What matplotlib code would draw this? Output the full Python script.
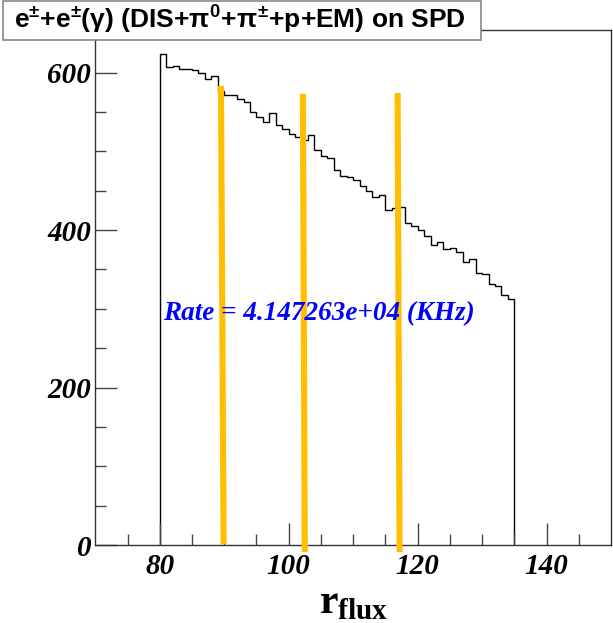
import numpy as np
import matplotlib
matplotlib.use("Agg")
import matplotlib.pyplot as plt
from matplotlib.patches import Rectangle

# histogram contents, 1 unit bins from 80 to 135
bin_edges = np.arange(80, 136, 1)
counts = [623, 607, 608, 604, 604, 603, 600, 592, 595, 577,
          572, 572, 567, 562, 550, 544, 537, 548, 533, 528,
          522, 518, 514, 521, 502, 494, 492, 476, 469, 467,
          464, 456, 449, 442, 444, 426, 428, 429, 409, 405,
          400, 393, 381, 385, 376, 377, 372, 359, 363, 346,
          344, 332, 329, 318, 313]

# orange marker lines (x_top, y_top) -> (x_bottom, y_bottom)
mark_x_top = [89.5, 102.2, 116.9]
mark_y_top = [583, 573, 574]
mark_x_bot = [89.9, 102.5, 117.2]
mark_y_bot = [1, -9, -9]

rate_label = "Rate = 4.147263e+04 (KHz)"
title = r"e$^{\pm}$+e$^{\pm}$($\gamma$) (DIS+$\pi^{0}$+$\pi^{\pm}$+p+EM) on SPD"

plt.rcParams['mathtext.fontset'] = 'custom'
plt.rcParams['mathtext.rm'] = 'Liberation Sans:bold'
plt.rcParams['mathtext.it'] = 'Liberation Sans:bold'
plt.rcParams['mathtext.bf'] = 'Liberation Serif:bold'

W, H = 613, 623
fig = plt.figure(figsize=(W / 100, H / 100), dpi=100)
ax = fig.add_axes([95.3 / W, 1 - 545 / H, (611 - 95.3) / W, (545 - 30) / H])

ax.stairs(counts, bin_edges, baseline=0, color='black', linewidth=1.0)

for xt, yt, xb, yb in zip(mark_x_top, mark_y_top, mark_x_bot, mark_y_bot):
    ax.plot([xt, xb], [yt, yb], color='#ffbf00', linewidth=4.4,
            solid_capstyle='butt', clip_on=False, zorder=3)

ax.text(80.5, 294, rate_label, color='#0000ff', fontsize=19.5,
        family='Liberation Serif', weight='bold', style='italic',
        ha='left', va='center', zorder=4)

ax.set_xlim(70, 150)
ax.set_ylim(0, 654)
ax.set_xticks([80, 100, 120, 140])
ax.set_xticks(np.arange(75, 150, 5), minor=True)
ax.set_yticks([0, 200, 400, 600])
ax.set_yticks(np.arange(0, 651, 50), minor=True)

for lab in ax.get_xticklabels() + ax.get_yticklabels():
    lab.set_family('Liberation Serif')
    lab.set_weight('bold')
    lab.set_style('italic')
    lab.set_fontsize(21)

ax.tick_params(which='both', direction='in', color='#444444', width=1)
ax.tick_params(which='major', length=16)
ax.tick_params(which='minor', length=8)
ax.tick_params(axis='x', pad=6)
ax.tick_params(axis='y', pad=3)
for s in ax.spines.values():
    s.set_linewidth(1.0)
    s.set_color('#333333')

ax.set_xlabel(r"$\mathbf{r}_{\mathbf{flux}}$", fontsize=30, labelpad=0)

# title box sits over the top left corner of the frame
box = Rectangle((3 / W, 1 - 40 / H), (481 - 3) / W, 39 / H,
                transform=fig.transFigure, facecolor='white',
                edgecolor='#888888', linewidth=1.2, zorder=5)
fig.add_artist(box)
fig.text(240 / W, 1 - 20 / H, title, fontsize=19, family='Liberation Sans',
         weight='bold', ha='center', va='center', zorder=6)

fig.savefig("out.png", dpi=100)
